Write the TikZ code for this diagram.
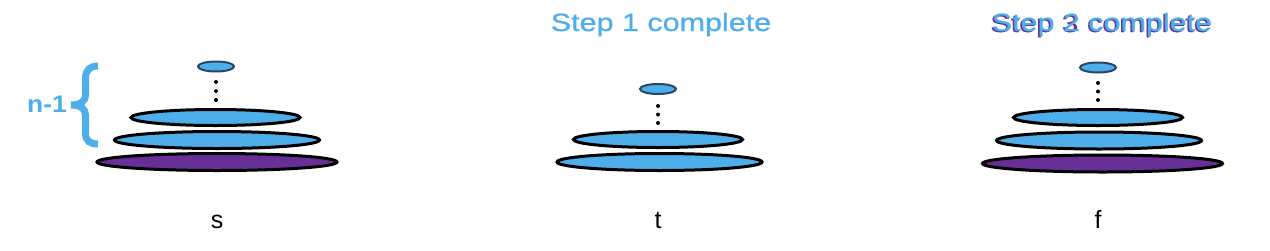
\documentclass[tikz,border=0pt]{standalone}
\usepackage{fontspec}
\setmainfont{Liberation Sans}
\newfontfamily\wide[FakeStretch=1.22,FakeBold=0.8]{Liberation Sans}
\newfontfamily\bwide[FakeStretch=1.1]{Liberation Sans}
\usetikzlibrary{shapes.geometric}
\definecolor{diskblue}{RGB}{78,174,234}
\definecolor{diskpurple}{RGB}{104,48,150}
\definecolor{slate}{RGB}{40,70,100}
\tikzset{
  disk/.style={ellipse, draw=black, line width=3pt, fill=diskblue, inner sep=0pt},
  topdisk/.style={ellipse, draw=slate, line width=2pt, fill=diskblue, inner sep=0pt, minimum width=36pt, minimum height=10pt},
  basedisk/.style={disk, fill=diskpurple},
  w2/.style={minimum width=169pt, minimum height=16pt},
  w3/.style={minimum width=205pt, minimum height=17pt},
  w4/.style={minimum width=240pt, minimum height=17pt},
  dot/.style={circle, fill=black, inner sep=0pt, minimum size=4pt},
  lbl/.style={font=\fontsize{25pt}{28pt}\selectfont, text=black, anchor=base},
  steptxt/.style={font=\wide\fontsize{25pt}{28pt}\selectfont, text=diskblue, anchor=base},
}
\begin{document}
\begin{tikzpicture}[x=1pt,y=-1pt]
\useasboundingbox (0,0) rectangle (1270,250);
% tower s
\node[topdisk] (s1) at (216,66.5) {};
\node[dot] (sd1) at (216,82) {};
\node[dot] (sd2) at (216,91) {};
\node[dot] (sd3) at (216,100) {};
\node[disk,w2] (s2) at (215.5,117.5) {};
\node[disk,w3] (s3) at (217,140) {};
\node[basedisk,w4] (s4) at (217,162) {};
\node[lbl] (sl) at (217,228) {s};
% brace and n-1
\draw[diskblue, line width=7pt] (98,66) .. controls (90,66) and (85.5,70) .. (85.5,78) -- (85.5,95) .. controls (85.5,101) and (81,105) .. (71,105) .. controls (81,105) and (85.5,109) .. (85.5,115) -- (85.5,133) .. controls (85.5,141) and (90,144) .. (98,144);
\node[font=\bwide\bfseries\fontsize{24pt}{27pt}\selectfont, text=diskblue, anchor=base] (n1) at (47,112) {n-1};
% tower t
\node[steptxt] (st1) at (661,31) {Step 1 complete};
\node[topdisk] (t1) at (658,89) {};
\node[dot] (td1) at (658,106) {};
\node[dot] (td2) at (658,114.5) {};
\node[dot] (td3) at (658,123) {};
\node[disk,w2] (t2) at (658,139.5) {};
\node[disk,w3] (t3) at (659.5,162) {};
\node[lbl] (tl) at (658,228) {t};
% tower f
\node[steptxt, text=diskpurple] (st3) at (1100.5,32) {Step 3 complete};
\node[steptxt] (st2) at (1102,31) {Step 2 complete};
\node[topdisk] (f1) at (1098,67.5) {};
\node[dot] (fd1) at (1098,83) {};
\node[dot] (fd2) at (1098,91.5) {};
\node[dot] (fd3) at (1098,100) {};
\node[disk,w2] (f2) at (1098,117.5) {};
\node[disk,w3] (f3) at (1099,140.5) {};
\node[basedisk,w4] (f4) at (1102.5,163.5) {};
\node[lbl] (fl) at (1098,228) {f};
\end{tikzpicture}
\end{document}
